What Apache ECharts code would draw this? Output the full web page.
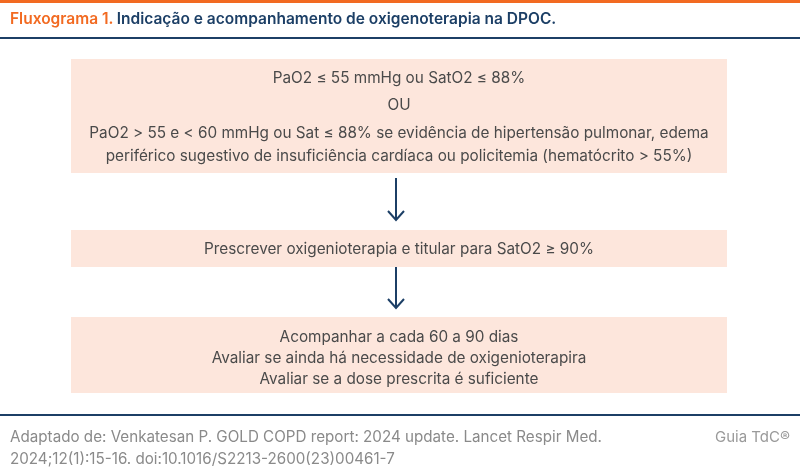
<!DOCTYPE html>
<html><head><meta charset="utf-8">
<script src="https://cdn.jsdelivr.net/npm/echarts@6/dist/echarts.min.js"></script>
<style>html,body{margin:0;padding:0;background:#fff}#c{width:800px;height:476px}</style>
</head><body><div id="c"></div>
<script>
const titleLabel = "Fluxograma 1.";
const titleText = "Indicação e acompanhamento de oxigenoterapia na DPOC.";
const box1Lines = [
  "PaO2 ≤ 55 mmHg ou SatO2 ≤ 88%",
  "OU",
  "PaO2 > 55 e < 60 mmHg ou Sat ≤ 88% se evidência de hipertensão pulmonar, edema",
  "periférico sugestivo de insuficiência cardíaca ou policitemia (hematócrito > 55%)"
];
const box2Lines = ["Prescrever oxigenioterapia e titular para SatO2 ≥ 90%"];
const box3Lines = [
  "Acompanhar a cada 60 a 90 dias",
  "Avaliar se ainda há necessidade de oxigenioterapira",
  "Avaliar se a dose prescrita é suficiente"
];
const footerLines = [
  "Adaptado de: Venkatesan P. GOLD COPD report: 2024 update. Lancet Respir Med.",
  "2024;12(1):15-16. doi:10.1016/S2213-2600(23)00461-7"
];
const brand = "Guia TdC®";

const FONT = "Inter";
const TXT = "#4a4a4a";
const FILL = "#fde6dc";
const NAVY = "#1c3f66";
const ORANGE = "#f26a21";

function boxEls(y0, h, lines, ys) {
  const els = [{type:'rect', shape:{x:71,y:y0,width:656,height:h}, style:{fill:FILL}}];
  lines.forEach((t,i)=>{
    els.push({type:'text', x:399, y:ys[i], style:{text:t, fill:TXT, font:`400 15.3px ${FONT}`, textAlign:'center', textVerticalAlign:'middle'}});
  });
  return els;
}
function arrow(y0,y1){
  return [
    {type:'line', shape:{x1:396,y1:y0,x2:396,y2:y1}, style:{stroke:NAVY, lineWidth:2}},
    {type:'polyline', shape:{points:[[388,y1-9],[396,y1],[404,y1-9]]}, style:{stroke:NAVY, lineWidth:2, fill:null}}
  ];
}

const chart = echarts.init(document.getElementById('c'), null, {renderer:'canvas'});
const g = [];
g.push({type:'rect', shape:{x:0,y:0,width:800,height:3}, style:{fill:ORANGE}});
g.push({type:'text', x:10, y:19, style:{rich:{a:{fill:ORANGE,font:`600 15.5px ${FONT}`},b:{fill:NAVY,font:`600 15.5px ${FONT}`}}, text:`{a|${titleLabel}} {b|${titleText}}`, textVerticalAlign:'middle'}});
g.push({type:'rect', shape:{x:0,y:37,width:800,height:2}, style:{fill:NAVY}});
g.push(...boxEls(59,114,box1Lines,[78,105,133,156]));
g.push(...arrow(178,220));
g.push(...boxEls(230,37,box2Lines,[249]));
g.push(...arrow(267,308));
g.push(...boxEls(317,76,box3Lines,[337,358,379]));
g.push({type:'rect', shape:{x:0,y:414,width:800,height:2}, style:{fill:NAVY}});
footerLines.forEach((t,i)=>g.push({type:'text', x:10, y:437+22*i, style:{text:t, fill:'#8a8a8a', font:`400 15.2px ${FONT}`, textVerticalAlign:'middle'}}));
g.push({type:'text', x:790, y:437, style:{text:brand, fill:'#9a9a9a', font:`400 15px ${FONT}`, textAlign:'right', textVerticalAlign:'middle'}});
chart.setOption({animation:false, graphic:{elements:g}});
</script></body></html>
